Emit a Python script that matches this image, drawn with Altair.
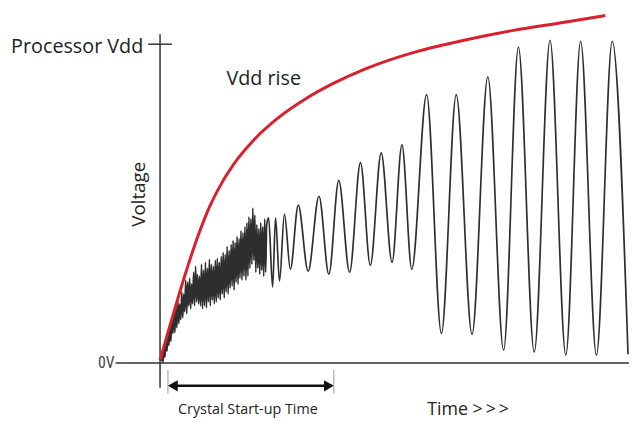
import altair as alt
import pandas as pd

# ---------------- data (time units, voltage units; Processor Vdd = 323) -------------
# red "Vdd rise" curve
vdd_t = [0, 10, 20, 30, 40, 50, 60, 75, 95, 118, 148, 175, 208, 258, 308, 358, 408, 451]
vdd_v = [3, 38, 72, 104, 133, 158, 178, 202, 226, 247, 268, 283, 298, 315, 327, 337, 345, 352]

# noisy crystal start (t = 1 .. 108)
noise_t = list(range(1, 109))
noise_v = [2, 8, 1, 14, 6, 24, 12, 30, 18, 38, 22, 45, 30, 52, 31, 56, 36, 63, 40, 60,
           44, 72, 46, 70, 52, 84, 50, 82, 58, 86, 55, 80, 60, 92, 58, 98, 62, 90, 60, 88,
           58, 100, 55, 94, 58, 102, 56, 96, 62, 105, 58, 100, 64, 98, 60, 104, 62, 106, 66, 102,
           64, 108, 70, 112, 66, 110, 72, 118, 70, 114, 76, 120, 78, 124, 74, 122, 82, 128, 80, 126,
           86, 134, 84, 132, 88, 138, 84, 142, 88, 148, 96, 146, 100, 157, 104, 150, 92, 140, 96, 136,
           90, 142, 94, 138, 88, 146, 92, 140]

# oscillation peaks / troughs
osc_t = [110, 114, 117, 121, 126, 132, 140, 150, 161, 171, 181, 192, 203, 213, 224, 235,
         245, 255, 270, 285, 300, 316, 332, 348, 363, 379, 395, 411, 426, 442, 458, 474]
osc_v = [147, 77, 147, 83, 151, 95, 160, 93, 169, 90, 185, 92, 203, 99, 213, 102,
         221, 95, 272, 30, 272, 29, 290, 13, 320, 11, 327, 8, 326, 8, 326, 9]

VDD = 323

black = pd.DataFrame({"t": noise_t + osc_t, "v": noise_v + osc_v})
red = pd.DataFrame({"t": vdd_t, "v": vdd_v})

xs = alt.Scale(domain=[-45, 475], nice=False, zero=False)
ys = alt.Scale(domain=[-45, 355], nice=False, zero=False)


def X(field):
    return alt.X(field, type="quantitative", scale=xs, axis=None)


def Y(field):
    return alt.Y(field, type="quantitative", scale=ys, axis=None)


FONT = "Open Sans"

osc = alt.Chart(black).mark_line(color="#2e2e2e", strokeWidth=1.7, interpolate="monotone").encode(
    x=X("t"), y=Y("v"))

vdd = alt.Chart(red).mark_line(color="#d9202c", strokeWidth=3, interpolate="monotone").encode(
    x=X("t"), y=Y("v"))


def seg(x1, x2, y1, y2, color="#333333", w=1.5):
    return alt.Chart(pd.DataFrame({"a": [0]})).mark_rule(color=color, strokeWidth=w).encode(
        x=alt.X(datum=x1, type="quantitative", scale=xs, axis=None),
        x2=alt.X2(datum=x2),
        y=alt.Y(datum=y1, type="quantitative", scale=ys, axis=None),
        y2=alt.Y2(datum=y2))


h_axis = seg(-45, 475, 0, 0)
v_axis = seg(0, 0, -25, 333)
vdd_tick = seg(-12, 12, VDD, VDD)

# start-up time arrow
arrow = seg(10, 174, -23, -23, color="#111111", w=2.5)
bar_l = seg(8, 8, -7, -31, color="#999999", w=1)
bar_r = seg(176, 176, -7, -31, color="#999999", w=1)


def head(shape, t):
    return alt.Chart(pd.DataFrame({"a": [0]})).mark_point(
        shape=shape, filled=True, color="#111111", size=130, opacity=1).encode(
        x=alt.X(datum=t, type="quantitative", scale=xs, axis=None),
        y=alt.Y(datum=-23, type="quantitative", scale=ys, axis=None))


head_l = head("triangle-left", 13)
head_r = head("triangle-right", 171)


def label(text, t, v, size, align="center", baseline="alphabetic", angle=0, font=FONT,
          color="#222222"):
    kw = dict(text=text, fontSize=size, font=font, color=color, align=align, baseline=baseline)
    if angle:
        kw["angle"] = angle
    return alt.Chart(pd.DataFrame({"a": [0]})).mark_text(**kw).encode(
        x=alt.X(datum=t, type="quantitative", scale=xs, axis=None),
        y=alt.Y(datum=v, type="quantitative", scale=ys, axis=None))


t_proc = label("Processor Vdd", -17, 314, 20, align="right")
t_rise = label("Vdd rise", 105, 282, 20)
t_volt = label("Voltage", -15, 171, 19, angle=270)
t_zero = label("0V", -46, 0, 16, align="right", baseline="middle",
               font="Liberation Sans Narrow, Roboto Condensed, Liberation Sans", color="#444444")
t_cst = label("Crystal Start-up Time", 89, -48, 14.5, baseline="middle")
t_time = label("Time >\u2009>\u2009>", 312, -48, 18, baseline="middle")

chart = alt.layer(
    h_axis, v_axis, vdd_tick, bar_l, bar_r, arrow, head_l, head_r,
    osc, vdd,
    t_proc, t_rise, t_volt, t_zero, t_cst, t_time,
).properties(
    width=520, height=400,
    padding={"left": 109, "top": 2, "right": 0, "bottom": 10},
    autosize=alt.AutoSizeParams(type="none"),
    background="white",
).configure_view(stroke=None)

chart.save("out.html", embed_options={"renderer": "svg", "actions": False})
